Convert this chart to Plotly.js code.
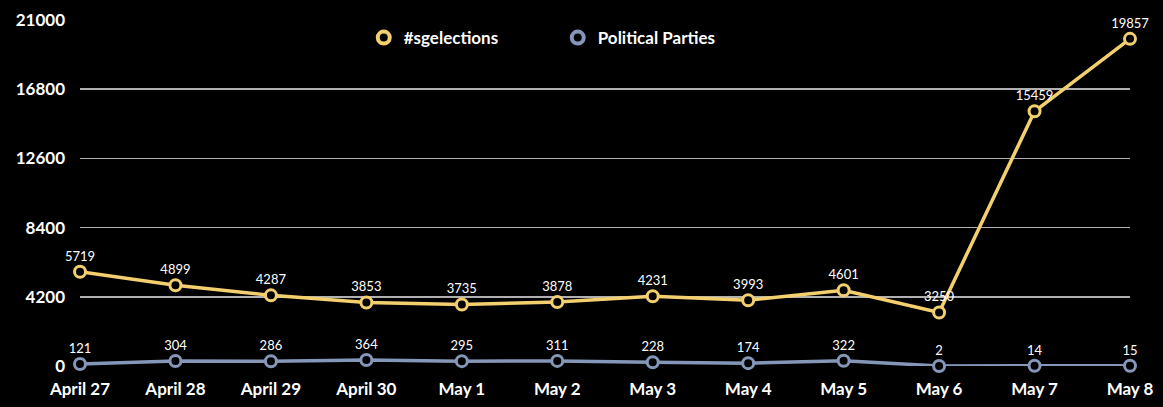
<!DOCTYPE html>
<html>
<head>
<meta charset="utf-8">
<script src="https://cdn.plot.ly/plotly-3.0.1.min.js"></script>
<style>
html,body{margin:0;padding:0;background:#000;}
#chart{width:1163px;height:407px;}
</style>
</head>
<body>
<div id="chart"></div>
<script>
const categories = ["April 27","April 28","April 29","April 30","May 1","May 2","May 3","May 4","May 5","May 6","May 7","May 8"];
const sgelections = [5719,4899,4287,3853,3735,3878,4231,3993,4601,3250,15459,19857];
const politicalParties = [121,304,286,364,295,311,228,174,322,2,14,15];
const yTicks = [0,4200,8400,12600,16800,21000];

const font = "Lato, 'Open Sans', sans-serif";
const yellow = '#F3CF6E';
const blue = '#8497B8';

function series(name, y, color) {
  return {
    x: categories, y: y, name: name, showlegend: false,
    type: 'scatter', mode: 'lines+markers+text',
    text: y.map(String), textposition: 'top center',
    textfont: {color: '#fff', size: 13, family: font},
    line: {color: color, width: 3.5},
    marker: {symbol: 'circle', size: 11, color: '#000', line: {color: color, width: 3}},
    cliponaxis: false
  };
}
function legendEntry(name, color) {
  return {
    x: [null], y: [null], name: name, type: 'scatter', mode: 'markers',
    marker: {symbol: 'circle', size: 12, color: '#000', line: {color: color, width: 4}}
  };
}

const data = [
  series('#sgelections', sgelections, yellow),
  series('Political Parties', politicalParties, blue),
  legendEntry('#sgelections', yellow),
  legendEntry('Political Parties', blue)
];

const layout = {
  width: 1163, height: 407,
  paper_bgcolor: '#000', plot_bgcolor: '#000',
  margin: {l: 80, r: 33, t: 20, b: 41},
  font: {family: font, color: '#fff', size: 16},
  showlegend: true,
  legend: {orientation: 'h', x: 0.455, xanchor: 'center', y: 1.0, yanchor: 'top',
           font: {color: '#fff', size: 17, family: font, weight: 'bold'}, bgcolor: 'rgba(0,0,0,0)',
           entrywidth: 149, entrywidthmode: 'pixels'},
  xaxis: {
    type: 'category', range: [0, 11], showgrid: false, zeroline: false, showline: false,
    tickfont: {color: '#fff', size: 17, family: font, weight: 'bold'}, ticks: '', ticklabelstandoff: 11
  },
  yaxis: {
    range: [0, 21000], tickvals: yTicks, ticktext: yTicks.map(String),
    showgrid: true, gridcolor: '#b0b0b0', gridwidth: 1.5, zeroline: false, showline: false,
    tickfont: {color: '#fff', size: 17, family: font, weight: 'bold'}, ticks: '', ticklabelstandoff: 14
  }
};

Plotly.newPlot('chart', data, layout, {displayModeBar: false, staticPlot: true});
</script>
</body>
</html>
